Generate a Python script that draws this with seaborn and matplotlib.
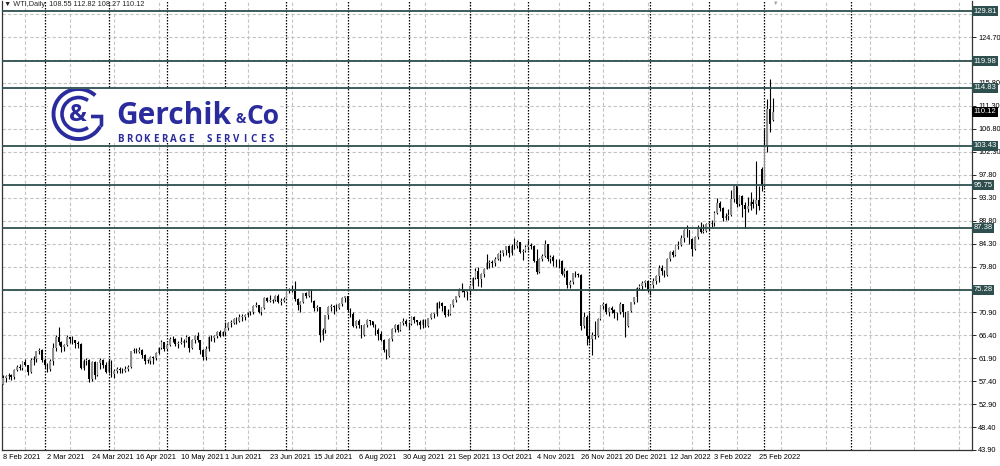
import numpy as np
import pandas as pd
import matplotlib
matplotlib.use('Agg')
import matplotlib.pyplot as plt
import matplotlib.transforms as mtransforms
from matplotlib.patches import Arc
import seaborn as sns

# Candles WTI daily, 8 Feb 2021 -> 4 Mar 2022 (one row per month)
opens = [
    56.9, 57.9, 58.4, 58.6, 58.2, 59.5, 60.1, 60.0, 61.1, 60.5, 59.2, 61.6, 61.7, 63.2, 63.5,
    61.5, 60.6, 59.8, 61.3, 63.8, 66.1, 65.1, 64.0, 64.4, 66.0, 65.6, 65.4, 64.8, 64.6, 60.0, 61.4, 61.6, 57.8, 61.2, 58.6, 61.0, 61.6, 60.6,
    59.2, 61.4, 58.7, 59.3, 59.8, 59.6, 59.3, 59.7, 60.2, 63.2, 63.5, 63.1, 63.4, 62.4, 61.4, 61.4, 62.1, 61.9, 62.9, 63.9, 65.0,
    63.6, 64.5, 65.7, 65.6, 64.7, 64.9, 64.9, 65.3, 66.1, 63.8, 65.4, 66.3, 65.5, 63.4, 62.1, 63.6, 66.1, 65.8, 66.2, 66.9, 66.3,
    66.9, 67.7, 68.8, 68.8, 69.6, 69.2, 70.0, 70.0, 70.3, 70.9, 70.9, 72.1, 72.2, 71.0, 71.6, 73.7, 73.1, 73.1, 73.3, 74.1, 72.9, 73.0,
    73.5, 75.2, 75.2, 75.5, 73.4, 72.2, 72.9, 74.6, 74.1, 75.3, 73.1, 71.7, 71.8, 66.4, 67.4, 70.3, 71.9, 72.1, 71.9, 71.7, 72.4, 73.6,
    74.0, 71.3, 70.6, 68.2, 69.1, 68.3, 66.5, 68.3, 69.3, 69.1, 68.4, 67.3, 66.6, 65.5, 63.5, 62.3, 65.6, 67.5, 68.4, 67.4, 68.7, 69.2,
    68.5, 68.6, 70.0, 69.3, 69.0, 68.4, 69.3, 68.1, 69.7, 70.5, 70.5, 72.6, 72.6, 72.0, 70.3, 70.6, 72.2, 73.3, 74.0, 75.5, 75.3, 74.8,
    75.0, 75.9, 77.6, 78.9, 77.4, 78.3, 79.4, 80.5, 80.6, 80.4, 81.3, 82.3, 82.4, 83.0, 83.9, 82.5, 83.8, 83.8, 84.6, 82.7, 82.8,
    83.6, 84.0, 83.9, 80.9, 78.8, 81.3, 81.9, 84.2, 81.3, 81.6, 80.8, 80.9, 80.8, 78.4, 79.0, 76.1, 76.8, 78.5, 78.4, 78.2, 68.2, 70.0,
    66.2, 65.6, 66.5, 66.3, 69.5, 72.1, 72.4, 70.9, 71.7, 71.3, 70.7, 70.9, 72.4, 70.9, 68.2, 71.1, 72.8, 73.8, 75.6, 76.0, 76.6, 77.0,
    75.2, 76.1, 77.0, 77.9, 79.5, 78.9, 78.2, 81.2, 82.6, 82.1, 83.8, 84.1, 85.4, 87.0, 86.9, 85.1, 83.3, 85.6, 87.4, 86.6, 86.8,
    88.2, 88.2, 88.3, 90.3, 92.3, 91.3, 89.4, 89.7, 89.9, 93.1, 95.5, 92.1, 93.7, 91.8, 91.1, 91.6, 92.4, 92.1, 92.8, 98.8,
    95.7, 103.4, 110.6, 108.55,
]
highs = [
    58.6, 58.6, 58.9, 58.8, 59.8, 60.6, 60.8, 61.3, 61.8, 60.6, 61.9, 62.3, 63.3, 63.8, 63.6,
    61.9, 61.0, 61.8, 64.8, 66.4, 68.0, 65.3, 64.6, 66.4, 66.1, 66.3, 65.5, 65.3, 64.9, 61.7, 62.0, 61.7, 61.3, 61.3, 61.2, 61.9, 61.8, 61.1,
    61.7, 61.5, 59.8, 60.1, 60.2, 60.0, 60.4, 60.5, 63.3, 63.8, 63.8, 64.0, 63.6, 62.6, 61.8, 62.3, 62.3, 63.1, 64.0, 65.5, 65.1,
    64.9, 66.0, 66.2, 65.8, 65.2, 66.0, 65.6, 66.4, 66.2, 65.6, 66.5, 66.9, 65.5, 63.6, 64.2, 66.3, 66.5, 66.4, 67.1, 67.4, 67.2,
    68.9, 69.0, 69.4, 69.8, 69.9, 70.6, 70.5, 70.5, 71.0, 71.2, 72.2, 72.9, 72.3, 71.8, 73.8, 73.8, 74.2, 73.5, 74.2, 74.4, 73.6, 73.9,
    75.5, 75.7, 76.2, 77.0, 73.6, 73.1, 74.7, 74.8, 75.5, 75.5, 73.2, 72.3, 71.9, 67.7, 70.4, 72.1, 72.4, 72.2, 72.5, 72.7, 73.8, 74.0,
    74.0, 71.6, 70.9, 69.3, 69.5, 68.4, 68.5, 69.6, 69.4, 69.2, 68.5, 67.7, 67.1, 65.7, 63.7, 65.8, 67.7, 68.5, 68.6, 69.0, 69.7, 69.5,
    69.0, 70.1, 70.2, 69.4, 69.4, 69.5, 69.5, 69.8, 70.8, 71.0, 72.8, 73.0, 72.8, 72.0, 71.5, 72.5, 73.5, 74.1, 75.6, 76.6, 75.5, 75.3,
    76.0, 77.8, 79.5, 79.8, 78.5, 79.5, 82.2, 81.0, 81.0, 81.6, 82.5, 83.0, 83.1, 83.9, 84.0, 84.2, 85.4, 84.9, 84.7, 83.2, 84.0,
    84.9, 84.5, 84.0, 83.2, 81.5, 82.3, 84.9, 84.3, 82.0, 82.0, 81.3, 81.2, 81.0, 79.5, 79.1, 77.2, 78.6, 78.9, 78.6, 78.3, 71.0, 70.4,
    71.0, 67.0, 69.1, 69.7, 72.3, 72.9, 72.6, 71.8, 72.0, 71.5, 71.0, 72.8, 72.5, 70.9, 71.2, 72.9, 73.9, 75.8, 76.3, 76.9, 77.2, 77.2,
    76.4, 77.6, 78.2, 80.2, 80.1, 79.1, 81.4, 82.9, 83.0, 84.0, 84.8, 86.0, 87.1, 87.9, 87.0, 85.4, 85.7, 87.9, 88.5, 88.1, 88.4,
    88.7, 89.0, 90.7, 93.2, 92.6, 91.4, 90.3, 91.0, 94.7, 95.8, 95.6, 93.9, 93.9, 92.5, 93.4, 94.4, 93.0, 100.5, 95.6, 99.2,
    106.8, 112.5, 116.6, 112.82,
]
lows = [
    56.8, 57.3, 57.8, 57.6, 57.8, 59.3, 59.5, 59.6, 60.3, 58.6, 59.0, 60.6, 61.1, 62.6, 61.2,
    60.0, 59.1, 59.3, 60.5, 63.2, 64.5, 63.1, 63.3, 64.2, 64.9, 64.6, 63.9, 63.9, 59.7, 59.5, 60.5, 57.3, 57.5, 57.8, 58.3, 59.8, 60.0, 58.9,
    59.0, 58.1, 58.0, 58.9, 59.0, 58.9, 59.1, 59.3, 60.0, 62.8, 62.8, 62.9, 62.0, 60.8, 60.9, 60.8, 60.7, 61.6, 62.6, 63.7, 63.2,
    63.5, 64.3, 65.1, 64.3, 63.9, 64.6, 64.1, 65.0, 63.1, 63.7, 64.9, 65.0, 62.6, 61.6, 61.6, 63.2, 65.2, 65.1, 65.8, 66.1, 66.2,
    66.5, 67.4, 68.0, 68.6, 68.5, 69.0, 69.2, 69.4, 69.9, 70.3, 70.6, 71.8, 70.7, 70.3, 71.4, 72.8, 72.8, 72.7, 73.0, 72.6, 72.3, 72.9,
    73.4, 74.6, 74.9, 73.0, 71.3, 71.0, 72.6, 73.7, 73.8, 72.9, 71.2, 71.1, 65.0, 65.5, 66.8, 69.6, 71.2, 70.6, 71.2, 71.4, 72.0, 72.9,
    71.0, 70.0, 67.9, 67.8, 67.8, 65.9, 66.3, 67.9, 68.3, 67.9, 66.4, 65.5, 65.2, 63.1, 61.8, 62.1, 65.3, 66.9, 67.0, 67.1, 68.4, 68.1,
    67.6, 68.3, 68.8, 68.4, 67.6, 67.8, 67.9, 68.0, 69.5, 69.8, 70.2, 71.7, 71.2, 69.9, 70.2, 70.4, 71.8, 72.8, 73.8, 74.9, 73.9, 73.2,
    74.2, 75.5, 77.3, 76.0, 75.8, 77.8, 79.3, 79.6, 79.7, 79.9, 81.1, 80.8, 81.8, 82.0, 81.7, 82.0, 83.3, 83.5, 82.5, 81.0, 82.6,
    83.0, 83.2, 80.6, 78.3, 78.6, 80.9, 81.6, 80.8, 80.5, 79.9, 79.8, 79.6, 78.2, 77.8, 75.7, 75.6, 76.3, 77.7, 77.8, 67.4, 67.8, 64.4,
    64.9, 62.4, 65.7, 66.1, 69.3, 71.5, 70.6, 70.1, 70.8, 69.8, 69.3, 70.6, 69.9, 66.1, 68.0, 70.9, 72.5, 72.9, 75.3, 75.2, 75.8, 74.9,
    74.3, 75.7, 76.3, 76.8, 78.1, 77.7, 78.0, 80.9, 81.7, 81.8, 83.3, 83.8, 84.6, 85.6, 84.2, 81.8, 83.1, 85.2, 86.3, 86.3, 86.5,
    87.0, 87.5, 87.7, 90.1, 90.6, 88.8, 88.9, 88.9, 89.7, 92.5, 91.4, 91.6, 89.5, 87.3, 90.5, 90.9, 91.2, 90.1, 90.9, 94.5,
    95.3, 102.3, 106.2, 108.27,
]
closes = [
    57.9, 58.4, 58.6, 58.2, 59.5, 60.1, 60.0, 61.1, 60.5, 59.2, 61.6, 61.7, 63.2, 63.5, 61.5,
    60.6, 59.8, 61.3, 63.8, 66.1, 65.1, 64.0, 64.4, 66.0, 65.6, 65.4, 64.8, 64.6, 60.0, 61.4, 61.6, 57.8, 61.2, 58.6, 61.0, 61.6, 60.6, 59.2,
    61.4, 58.7, 59.3, 59.8, 59.6, 59.3, 59.7, 60.2, 63.2, 63.5, 63.1, 63.4, 62.4, 61.4, 61.4, 62.1, 61.9, 62.9, 63.9, 65.0, 63.6,
    64.5, 65.7, 65.6, 64.7, 64.9, 64.9, 65.3, 66.1, 63.8, 65.4, 66.3, 65.5, 63.4, 62.1, 63.6, 66.1, 65.8, 66.2, 66.9, 66.3, 66.9,
    67.7, 68.8, 68.8, 69.6, 69.2, 70.0, 70.0, 70.3, 70.9, 70.9, 72.1, 72.2, 71.0, 71.6, 73.7, 73.1, 73.1, 73.3, 74.1, 72.9, 73.0, 73.5,
    75.2, 75.2, 75.5, 73.4, 72.2, 72.9, 74.6, 74.1, 75.3, 73.1, 71.7, 71.8, 66.4, 67.4, 70.3, 71.9, 72.1, 71.9, 71.7, 72.4, 73.6, 74.0,
    71.3, 70.6, 68.2, 69.1, 68.3, 66.5, 68.3, 69.3, 69.1, 68.4, 67.3, 66.6, 65.5, 63.5, 62.3, 65.6, 67.5, 68.4, 67.4, 68.7, 69.2, 68.5,
    68.6, 70.0, 69.3, 69.0, 68.4, 69.3, 68.1, 69.7, 70.5, 70.5, 72.6, 72.6, 72.0, 70.3, 70.6, 72.2, 73.3, 74.0, 75.5, 75.3, 74.8, 75.0,
    75.9, 77.6, 78.9, 77.4, 78.3, 79.4, 80.5, 80.6, 80.4, 81.3, 82.3, 82.4, 83.0, 83.9, 82.5, 83.8, 83.8, 84.6, 82.7, 82.8, 83.6,
    84.0, 83.9, 80.9, 78.8, 81.3, 81.9, 84.2, 81.3, 81.6, 80.8, 80.9, 80.8, 78.4, 79.0, 76.1, 76.8, 78.5, 78.4, 78.2, 68.2, 70.0, 66.2,
    65.6, 66.5, 66.3, 69.5, 72.1, 72.4, 70.9, 71.7, 71.3, 70.7, 70.9, 72.4, 70.9, 68.2, 71.1, 72.8, 73.8, 75.6, 76.0, 76.6, 77.0, 75.2,
    76.1, 77.0, 77.9, 79.5, 78.9, 78.2, 81.2, 82.6, 82.1, 83.8, 84.1, 85.4, 87.0, 86.9, 85.1, 83.3, 85.6, 87.4, 86.6, 86.8, 88.2,
    88.2, 88.3, 90.3, 92.3, 91.3, 89.4, 89.7, 89.9, 93.1, 95.5, 92.1, 93.7, 91.8, 91.1, 91.6, 92.4, 92.1, 92.8, 91.6, 95.7,
    103.4, 110.6, 107.7, 110.12,
]

# horizontal levels drawn on the chart
levels = [129.81, 119.98, 114.83, 103.43, 95.75, 87.38, 75.28]
last_price = 110.12
price_ticks = [43.90, 48.40, 52.90, 57.40, 61.90, 66.40, 70.90, 75.30, 79.80, 84.30,
               88.80, 93.30, 97.80, 102.30, 106.80, 111.30, 115.80, 120.20, 124.70, 129.20]
hidden_ticks = [75.30, 120.20, 129.20]   # covered by the level labels
skipped_days = ['2021-04-02', '2021-12-24']
chart_title = 'WTI,Daily  108.55 112.82 108.27 110.12'

dates = pd.bdate_range('2021-02-08', '2022-03-04')
dates = dates[~dates.isin(pd.to_datetime(skipped_days))]
assert len(dates) == len(opens) == len(highs) == len(lows) == len(closes)

df = pd.DataFrame({'date': dates, 'open': opens, 'high': highs, 'low': lows, 'close': closes})
df['i'] = np.arange(len(df))
df['bull'] = df['close'] >= df['open']

sns.set_theme(style='white')
plt.rcParams['font.family'] = ['Liberation Sans', 'DejaVu Sans']

LEVEL_COL = '#2f4f4f'
GRID_COL = '#c4c4c4'

fig = plt.figure(figsize=(10, 4.66), dpi=100)
ax = fig.add_axes([0.002, 16 / 466, 0.970, 449 / 466])
ax.set_facecolor('white')

# grid: horizontal at price ticks, vertical between date labels
ax.set_yticks(price_ticks)
ax.set_yticklabels(['' if v in hidden_ticks else f'{v:.2f}' for v in price_ticks])
ax.grid(axis='y', color=GRID_COL, linestyle=(0, (3, 2)), linewidth=0.8, zorder=0)
for gx in range(8, 349, 16):
    ax.axvline(gx, color=GRID_COL, linestyle=(0, (3, 2)), linewidth=0.8, zorder=0)

# month separators (past bars + extrapolated calendar days in the shift area)
month_start = df['i'][df['date'].dt.month != df['date'].shift(1).dt.month].iloc[1:]
for s in month_start:
    ax.axvline(s, color='black', linestyle=(0, (1.2, 1.2)), linewidth=0.9, zorder=1)
last_i = df['i'].iloc[-1]
future = pd.date_range(df['date'].iloc[-1] + pd.Timedelta(days=1), periods=45, freq='D')
for k, d in enumerate(future, start=1):
    if d.day == 1:
        ax.axvline(last_i + k, color='black', linestyle=(0, (1.2, 1.2)), linewidth=0.9, zorder=1)

# candles
ax.vlines(df['i'], df['low'], df['high'], color='black', linewidth=0.8, zorder=3)
body_lo = df[['open', 'close']].min(axis=1)
body_h = (df['close'] - df['open']).abs().clip(lower=0.12)
ax.bar(df['i'], body_h, bottom=body_lo, width=0.62,
       color=np.where(df['bull'], '#8e8e8e', '#000000'), edgecolor='none', zorder=3)

# levels
trans = mtransforms.blended_transform_factory(ax.transAxes, ax.transData)
for v in levels:
    ax.axhline(v, color=LEVEL_COL, linewidth=1.3, zorder=4)
    ax.text(1.0015, v, f'{v:.2f}', transform=trans, fontsize=5.5, color='white',
            va='center', ha='left', clip_on=False, zorder=10,
            bbox=dict(boxstyle='square,pad=0.2', fc=LEVEL_COL, ec='none'))
ax.text(1.0015, last_price, f'{last_price:.2f}', transform=trans, fontsize=5.5, color='white',
        va='center', ha='left', clip_on=False, zorder=10,
        bbox=dict(boxstyle='square,pad=0.2', fc='black', ec='none'))

# axes, ticks
ax.set_xlim(-0.36, 348.7)
ax.set_ylim(43.90, 131.77)
ax.set_xticks(df['i'][::16])
ax.set_xticklabels([f"{d.day} {d:%b %Y}" for d in df['date'][::16]], ha='left')
ax.yaxis.tick_right()
ax.tick_params(axis='both', labelsize=5.3, length=3, width=0.6, pad=1.5, colors='black')
ax.tick_params(axis='x', length=2, pad=1)
for side in ['left', 'right', 'bottom']:
    ax.spines[side].set_color('#333333')
    ax.spines[side].set_linewidth(0.9)
ax.spines['top'].set_visible(False)

fig.text(4 / 1000, 1 - 5 / 466, '\u25bc ' + chart_title, fontsize=5.3, va='center', ha='left')
fig.text(776 / 1000, 1 - 3 / 466, '\u25bc', fontsize=4, color='#a0a0a0', va='center', ha='center')

# logo
BLUE = '#2a2b9c'
lax = fig.add_axes([48 / 1000, 1 - 143 / 466, 232 / 1000, 54 / 466], zorder=5)
lax.set_facecolor('white')
lax.set_xlim(48, 280)
lax.set_ylim(143, 89)
lax.set_xticks([])
lax.set_yticks([])
for s in lax.spines.values():
    s.set_visible(False)
cx, cy = 78.5, 114
lax.add_patch(Arc((cx, cy), 50, 50, theta1=30, theta2=312, color=BLUE, lw=2.8))
lax.add_patch(Arc((cx, cy), 33, 33, theta1=55, theta2=305, color=BLUE, lw=2.6))
lax.plot([100.5, 101.5, 101.5, 91], [126.5, 125, 116.5, 116.5], color=BLUE, lw=2.6,
         solid_capstyle='butt', solid_joinstyle='miter')
lax.text(cx - 1, cy + 1, '&', fontsize=17, color=BLUE, ha='center', va='center',
         family='Open Sans', fontweight='bold')
lax.text(116, 123.5, 'Gerchik', fontsize=21.5, color=BLUE, ha='left', va='baseline',
         family='Open Sans', fontweight='bold')
lax.text(241, 123, '&', fontsize=10, color=BLUE, ha='center', va='baseline',
         family='Open Sans', fontweight='bold')
lax.text(246, 123.5, 'Co', fontsize=19, color=BLUE, ha='left', va='baseline',
         family='Open Sans', fontweight='bold')
tag = 'BROKERAGE SERVICES'
for k, ch in enumerate(tag):
    lax.text(120 + k * 8.9, 141.5, ch, fontsize=7, color=BLUE, ha='center', va='baseline',
             family='Open Sans', fontweight='bold')

fig.savefig('out.png', dpi=100)
